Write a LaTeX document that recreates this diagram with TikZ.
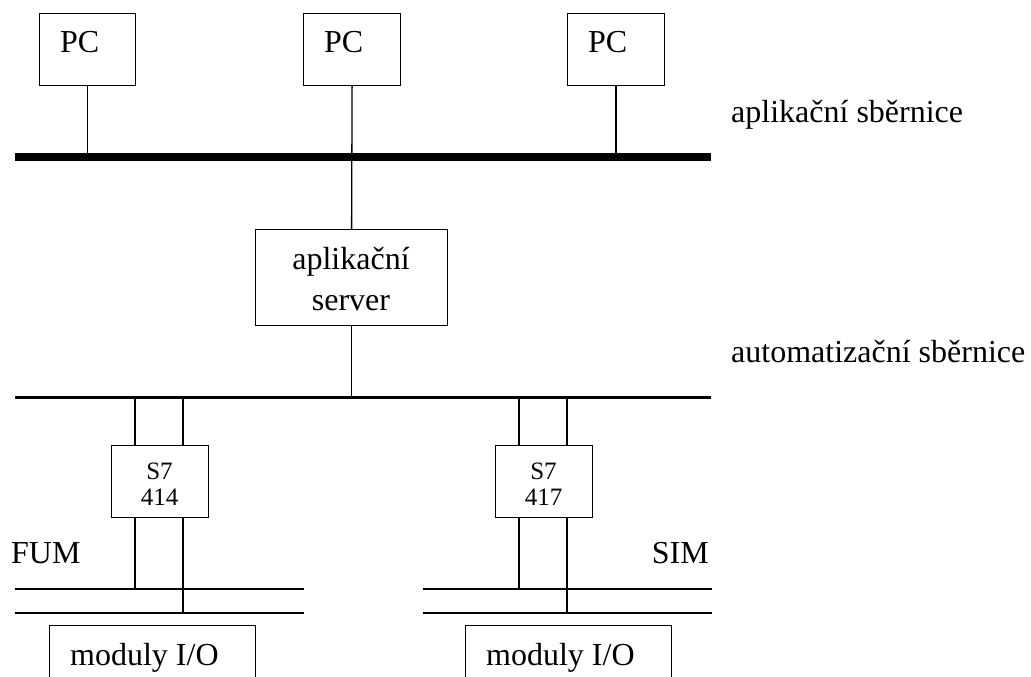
\documentclass[tikz,border=0pt]{standalone}
\usepackage{fontspec}
\setmainfont{Liberation Serif}
\begin{document}
\begin{tikzpicture}[x=1pt,y=-1pt,
  box/.style={draw,line width=1.2pt,inner sep=0pt,anchor=north west},
  txt/.style={inner sep=0pt,font=\fontsize{32}{40}\selectfont},
  small/.style={inner sep=0pt,font=\fontsize{25}{26}\selectfont},
  wire/.style={line width=1.3pt},
  thickbus/.style={line width=8pt},
  autobus/.style={line width=3.2pt},
  fieldbus/.style={line width=1.3pt}]
\useasboundingbox (0,0) rectangle (1031,677);

% PC stations
\node[box,minimum width=96pt,minimum height=72pt] (pc1) at (39,13) {};
\node[box,minimum width=97pt,minimum height=72pt] (pc2) at (303,13) {};
\node[box,minimum width=97pt,minimum height=72pt] (pc3) at (567,13) {};
\node[txt,anchor=base west] (pc1t) at (60,53) {PC};
\node[txt,anchor=base west] (pc2t) at (324,53) {PC};
\node[txt,anchor=base west] (pc3t) at (588,53) {PC};

% application bus
\coordinate (ab1) at (15,157);
\coordinate (ab2) at (711,157);
\draw[thickbus] (ab1) -- (ab2);
\node[txt,anchor=base west] (ablabel) at (731,122) {aplikační sběrnice};

% application server
\node[box,minimum width=192pt,minimum height=96pt] (srv) at (255,229) {};
\node[txt,anchor=base] (srvt1) at (351,269) {aplikační};
\node[txt,anchor=base] (srvt2) at (351,310) {server};

% automation bus
\coordinate (au1) at (15,397.5);
\coordinate (au2) at (711,397.5);
\draw[autobus] (au1) -- (au2);
\node[txt,anchor=base west] (aulabel) at (731,362) {automatizační sběrnice};

% links to the upper buses
\draw[wire] (pc1.south) -- (pc1.south |- ab1);
\draw[wire] (pc3.south) -- (pc3.south |- ab1);
\draw[wire] (pc2.south) -- (srv.north);
\draw[wire] (srv.south) -- (srv.south |- au1);

% PLC stations
\node[box,minimum width=97pt,minimum height=72pt] (plc1) at (111,445) {};
\node[small,anchor=base] (plc1a) at (159.5,479) {S7};
\node[small,anchor=base] (plc1b) at (159.5,505) {414};
\node[box,minimum width=97pt,minimum height=72pt] (plc2) at (495,445) {};
\node[small,anchor=base] (plc2a) at (543.5,479) {S7};
\node[small,anchor=base] (plc2b) at (543.5,505) {417};

% field buses
\coordinate (fa1) at (15,589);   \coordinate (fa2) at (304,589);
\coordinate (fb1) at (15,613);   \coordinate (fb2) at (304,613);
\coordinate (sa1) at (423,589);  \coordinate (sa2) at (712,589);
\coordinate (sb1) at (423,613);  \coordinate (sb2) at (712,613);
\draw[fieldbus] (fa1) -- (fa2);
\draw[fieldbus] (fb1) -- (fb2);
\draw[fieldbus] (sa1) -- (sa2);
\draw[fieldbus] (sb1) -- (sb2);
\node[txt,anchor=base west] (fum) at (11,563) {FUM};
\node[txt,anchor=base east] (sim) at (709,563) {SIM};

% PLC connections
\coordinate (p1l) at (135,0); \coordinate (p1r) at (183,0);
\coordinate (p2l) at (519,0); \coordinate (p2r) at (567,0);
\draw[wire] (p1l |- au1) -- (p1l |- plc1.north);
\draw[wire] (p1r |- au1) -- (p1r |- plc1.north);
\draw[wire] (p1l |- plc1.south) -- (p1l |- fa1);
\draw[wire] (p1r |- plc1.south) -- (p1r |- fb1);
\draw[wire] (p2l |- au1) -- (p2l |- plc2.north);
\draw[wire] (p2r |- au1) -- (p2r |- plc2.north);
\draw[wire] (p2l |- plc2.south) -- (p2l |- sa1);
\draw[wire] (p2r |- plc2.south) -- (p2r |- sb1);

% I/O modules
\node[box,minimum width=206pt,minimum height=80pt] (io1) at (49,625) {};
\node[txt,anchor=base west] (io1t) at (70,665) {moduly I/O};
\node[box,minimum width=206pt,minimum height=80pt] (io2) at (465,625) {};
\node[txt,anchor=base west] (io2t) at (486,665) {moduly I/O};
\end{tikzpicture}
\end{document}
